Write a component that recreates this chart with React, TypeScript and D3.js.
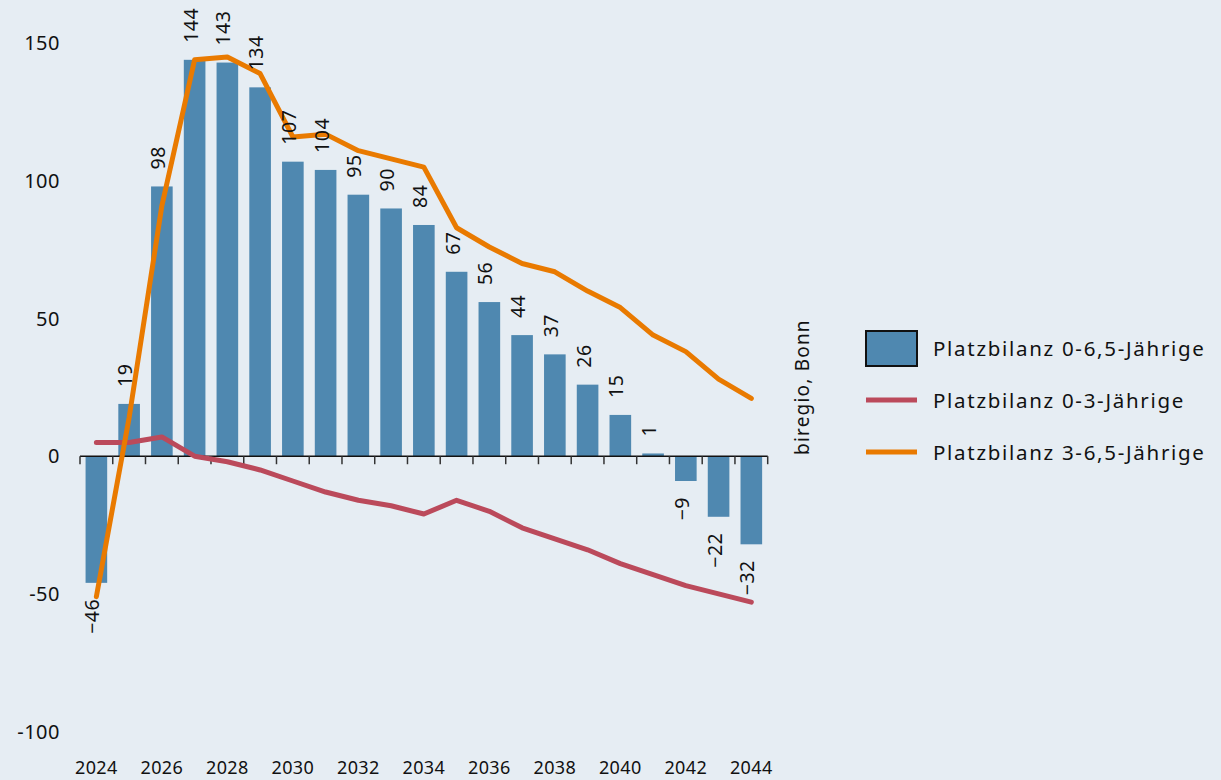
import React from "react";
import * as d3 from "d3";

const years = [2024,2025,2026,2027,2028,2029,2030,2031,2032,2033,2034,2035,2036,2037,2038,2039,2040,2041,2042,2043,2044];
const total = [-46,19,98,144,143,134,107,104,95,90,84,67,56,44,37,26,15,1,-9,-22,-32];
const under3 = [5,5,7,0,-2,-5,-9,-13,-16,-18,-21,-16,-20,-26,-30,-34,-39,-43,-47,-50,-53];
const over3 = [-51,14,91,144,145,139,116,117,111,108,105,83,76,70,67,60,54,44,38,28,21];
const yTicks = [150,100,50,0,-50,-100];
const xTickLabels = [2024,2026,2028,2030,2032,2034,2036,2038,2040,2042,2044];
const legendLabels = ["Platzbilanz 0-6,5-Jährige","Platzbilanz 0-3-Jährige","Platzbilanz 3-6,5-Jährige"];
const sourceText = "biregio, Bonn";

const W = 1221, H = 780;
const BG = "#e6edf3";
const BAR = "#4f88b0";
const RED = "#bb4a5b";
const ORANGE = "#e97a00";
const FONT = "'Noto Sans', sans-serif";

export default function App() {
  const x = d3.scaleBand<number>().domain(years).range([80, 767.7]).paddingInner(0.34).paddingOuter(0.17);
  const step = x.step();
  const y = d3.scaleLinear().domain([-100, 150]).range([731.5, 43.3]);
  const cx = (yr: number) => (x(yr) as number) + x.bandwidth() / 2;
  const line = d3.line<number>().x((_, i) => cx(years[i])).y((d) => y(d));
  const boundaries = d3.range(years.length + 1).map((i) => 80 + i * step);

  return (
    <svg width={W} height={H} style={{ position: "absolute", left: 0, top: 0, background: BG }} fontFamily={FONT}>
      <rect x={0} y={0} width={W} height={H} fill={BG} />
      {/* bars */}
      {total.map((v, i) => (
        <rect key={"b" + i} x={x(years[i])} y={Math.min(y(v), y(0))} width={x.bandwidth()} height={Math.abs(y(v) - y(0))} fill={BAR} />
      ))}
      {/* axis */}
      <line x1={80} x2={767.7} y1={y(0)} y2={y(0)} stroke="#111" strokeWidth={1.5} />
      {boundaries.map((b, i) => (
        <line key={"t" + i} x1={b} x2={b} y1={y(0)} y2={y(0) + 8} stroke="#333" strokeWidth={1.5} />
      ))}
      {/* lines */}
      <path d={line(under3) || ""} fill="none" stroke={RED} strokeWidth={5} strokeLinejoin="round" strokeLinecap="round" />
      <path d={line(over3) || ""} fill="none" stroke={ORANGE} strokeWidth={5} strokeLinejoin="round" strokeLinecap="round" />
      {/* value labels */}
      {total.map((v, i) => {
        const px = cx(years[i]) + 3;
        const py = v >= 0 ? y(v) - 17 : y(v) + 16;
        return (
          <text key={"l" + i} transform={`translate(${px},${py}) rotate(-90)`} textAnchor={v >= 0 ? "start" : "end"} fontSize={19.5} letterSpacing={0.5} fill="#111">
            {v < 0 ? "\u2212" + Math.abs(v) : String(v)}
          </text>
        );
      })}
      {/* y tick labels */}
      {yTicks.map((t) => (
        <text key={"y" + t} x={60} y={y(t)} dy="0.35em" textAnchor="end" fontSize={20} letterSpacing={0.5} fill="#111">
          {t < 0 ? "-" + Math.abs(t) : t}
        </text>
      ))}
      {/* x tick labels */}
      {xTickLabels.map((yr) => (
        <text key={"x" + yr} x={cx(yr)} y={768} dy="0.35em" textAnchor="middle" fontSize={18} letterSpacing={0.4} fill="#111">
          {yr}
        </text>
      ))}
      {/* source */}
      <text transform={`translate(809,455) rotate(-90)`} textAnchor="start" fontSize={19} letterSpacing={1.2} fill="#111">
        {sourceText}
      </text>
      {/* legend */}
      <rect x={866} y={331} width={51} height={35} fill={BAR} stroke="#111" strokeWidth={2} />
      <line x1={866} x2={917} y1={400} y2={400} stroke={RED} strokeWidth={5} />
      <line x1={866} x2={917} y1={452} y2={452} stroke={ORANGE} strokeWidth={5} />
      {legendLabels.map((l, i) => (
        <text key={"lg" + i} x={933} y={[349, 401, 453][i]} dy="0.35em" fontSize={20.5} fill="#111" letterSpacing={1.7}>
          {l}
        </text>
      ))}
    </svg>
  );
}
